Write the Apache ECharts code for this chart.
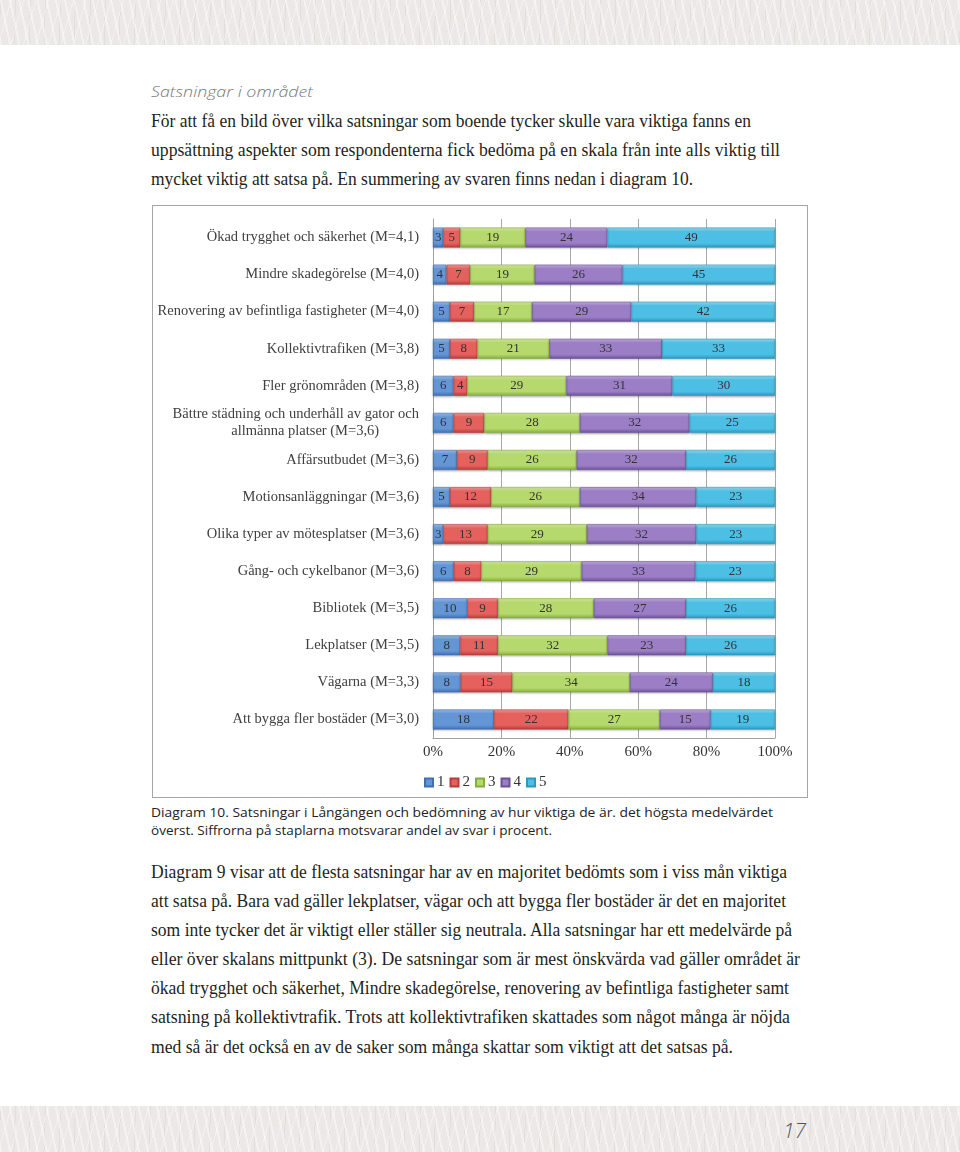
<!DOCTYPE html>
<html><head><meta charset="utf-8">
<script src="https://cdn.jsdelivr.net/npm/echarts@6/dist/echarts.min.js"></script>
<style>
html,body{margin:0;padding:0;background:#fff;}
#page{position:relative;width:960px;height:1152px;overflow:hidden;background:#fff;}
.tex{position:absolute;left:0;width:960px;background-color:#ebe8e5;
 background-image:
 repeating-linear-gradient(78deg, rgba(255,255,255,0.45) 0 2px, transparent 2px 9px),
 repeating-linear-gradient(-74deg, rgba(255,255,255,0.4) 0 1px, transparent 1px 12px),
 repeating-linear-gradient(92deg, rgba(210,205,200,0.35) 0 1px, transparent 1px 15px);}
.ln{position:absolute;left:151px;white-space:nowrap;transform-origin:0 50%;line-height:1;}
.body{font-family:"Liberation Serif",serif;font-size:18.5px;color:#231f20;}
.cap{font-family:"Open Sans",sans-serif;font-size:13.5px;color:#222;}
.hand{font-family:"Open Sans",sans-serif;font-style:italic;font-weight:300;color:#777;font-size:15px;}
#chart{position:absolute;left:152px;top:205px;width:654px;height:591px;border:1px solid #a6a6a6;}
</style></head>
<body><div id="page">
<div class="tex" style="top:0;height:45px;"></div>
<div class="tex" style="top:1106px;height:46px;"></div>
<div class="ln hand" data-w="162" style="top:84px;">Satsningar i området</div>
<div class="ln body" data-w="600" style="top:112px;">För att få en bild över vilka satsningar som boende tycker skulle vara viktiga fanns en</div>
<div class="ln body" data-w="629" style="top:141px;">uppsättning aspekter som respondenterna fick bedöma på en skala från inte alls viktig till</div>
<div class="ln body" data-w="542" style="top:170px;">mycket viktig att satsa på. En summering av svaren finns nedan i diagram 10.</div>
<div id="chart"></div>
<div class="ln cap" data-w="622" style="top:806px;">Diagram 10. Satsningar i Långängen och bedömning av hur viktiga de är. det högsta medelvärdet</div>
<div class="ln cap" data-w="401" style="top:824px;">överst. Siffrorna på staplarna motsvarar andel av svar i procent.</div>
<div class="ln body" data-w="636" style="top:863px;">Diagram 9 visar att de flesta satsningar har av en majoritet bedömts som i viss mån viktiga</div>
<div class="ln body" data-w="635" style="top:892px;">att satsa på. Bara vad gäller lekplatser, vägar och att bygga fler bostäder är det en majoritet</div>
<div class="ln body" data-w="641" style="top:921px;">som inte tycker det är viktigt eller ställer sig neutrala. Alla satsningar har ett medelvärde på</div>
<div class="ln body" data-w="649" style="top:950px;">eller över skalans mittpunkt (3). De satsningar som är mest önskvärda vad gäller området är</div>
<div class="ln body" data-w="638" style="top:979px;">ökad trygghet och säkerhet, Mindre skadegörelse, renovering av befintliga fastigheter samt</div>
<div class="ln body" data-w="639" style="top:1008px;">satsning på kollektivtrafik. Trots att kollektivtrafiken skattades som något många är nöjda</div>
<div class="ln body" data-w="582" style="top:1038px;">med så är det också en av de saker som många skattar som viktigt att det satsas på.</div>
<div class="ln hand" style="left:783px;top:1120px;font-size:21px;color:#555;">17</div>
</div>
<script>
const categories = [
 "Ökad trygghet och säkerhet (M=4,1)",
 "Mindre skadegörelse (M=4,0)",
 "Renovering av befintliga fastigheter (M=4,0)",
 "Kollektivtrafiken (M=3,8)",
 "Fler grönområden (M=3,8)",
 "Bättre städning och underhåll av gator och\nallmänna platser (M=3,6)\u00a0\u00a0\u00a0\u00a0\u00a0\u00a0\u00a0\u00a0\u00a0\u00a0\u00a0",
 "Affärsutbudet (M=3,6)",
 "Motionsanläggningar (M=3,6)",
 "Olika typer av mötesplatser (M=3,6)",
 "Gång- och cykelbanor (M=3,6)",
 "Bibliotek (M=3,5)",
 "Lekplatser (M=3,5)",
 "Vägarna (M=3,3)",
 "Att bygga fler bostäder (M=3,0)"
];
const seriesNames = ["1","2","3","4","5"];
const s1 = [3,4,5,5,6,6,7,5,3,6,10,8,8,18];
const s2 = [5,7,7,8,4,9,9,12,13,8,9,11,15,22];
const s3 = [19,19,17,21,29,28,26,26,29,29,28,32,34,27];
const s4 = [24,26,29,33,31,32,32,34,32,33,27,23,24,15];
const s5 = [49,45,42,33,30,25,26,23,23,23,26,26,18,19];
const xTicks = ["0%","20%","40%","60%","80%","100%"];

document.querySelectorAll('.ln[data-w]').forEach(el=>{
  const w = el.getBoundingClientRect().width;
  const t = +el.dataset.w;
  if (w>0) el.style.transform = 'scaleX(' + (t/w) + ')';
});

const all = [s1,s2,s3,s4,s5];
const totals = categories.map((c,i)=>all.reduce((a,s)=>a+s[i],0));
const palette = [
 ['#a9c6ec','#6496d6','#3f6fb2'],
 ['#f4a9a7','#e5615e','#b53d3a'],
 ['#e0f2b0','#b5d96c','#86ad3c'],
 ['#cbb9e4','#9b7ec5','#6c5197'],
 ['#a8e2f5','#4dbfe5','#2b98c0']
];
function grad(p){
  return {type:'linear',x:0,y:0,x2:0,y2:1,colorStops:[
    {offset:0,color:p[0]},{offset:0.2,color:p[1]},{offset:0.78,color:p[1]},{offset:1,color:p[2]}]};
}
const chart = echarts.init(document.getElementById('chart'), null, {renderer:'canvas'});
const series = all.map((s,k)=>({
  name: seriesNames[k],
  type:'bar',
  stack:'total',
  barWidth:20,
  data: s.map((v,i)=>v/totals[i]*100),
  itemStyle:{color:grad(palette[k]), borderColor:palette[k][2], borderWidth:0.6,
    shadowColor:'rgba(0,0,0,0.25)', shadowBlur:2, shadowOffsetY:1},
  label:{show:true, position:'inside', formatter:(p)=>String(s[p.dataIndex]),
    fontFamily:'Liberation Serif', fontSize:13, color:'#333'},
  emphasis:{disabled:true}
}));
chart.setOption({
  animation:false,
  grid:{left:280, right:32, top:13, bottom:59},
  legend:{data:seriesNames.map((n,k)=>({name:n, itemStyle:{color:grad(palette[k])}})),
    left:266, top:564, itemWidth:8, itemHeight:8, itemGap:5, icon:'rect',
    textStyle:{fontFamily:'Liberation Serif', fontSize:15, color:'#333', padding:[0,0,0,-1]}},
  xAxis:{type:'value', min:0, max:100, interval:20,
    axisLine:{show:true, lineStyle:{color:'#a0a0a0'}},
    axisTick:{show:false},
    splitLine:{show:true, lineStyle:{color:'#a8a8a8', width:1}},
    axisLabel:{formatter:(v)=>xTicks[Math.round(v/20)], margin:7,
      fontFamily:'Liberation Serif', fontSize:15, color:'#333'}},
  yAxis:{type:'category', data:categories, inverse:true,
    axisLine:{show:true, lineStyle:{color:'#a0a0a0'}},
    axisTick:{show:false},
    axisLabel:{margin:14, fontFamily:'Liberation Serif', fontSize:14.5, color:'#404040', lineHeight:17}},
  series: series
});
</script>
</body></html>
